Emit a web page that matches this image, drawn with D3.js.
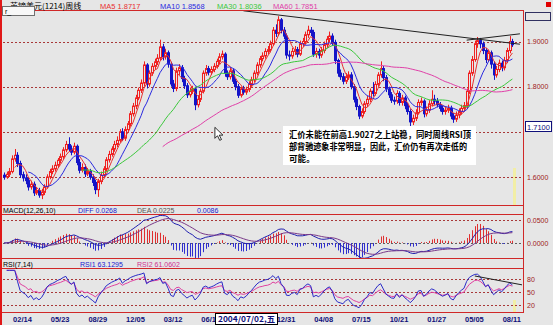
<!DOCTYPE html>
<html>
<head>
<meta charset="utf-8">
<script src="https://cdn.jsdelivr.net/npm/d3@7"></script>
<style>
  body { margin: 0; background: #e6e6e6; }
  svg { display: block; }
</style>
</head>
<body>
<svg id="chart" width="553" height="325"></svg>
<script>
// weekly candles, one per week, left to right
const closes = [
  1.600,1.606,1.612,1.640,1.648,1.630,1.605,1.598,1.592,1.578,
  1.584,1.565,1.570,1.560,1.566,1.578,1.600,1.612,1.618,1.626,
  1.637,1.645,1.660,1.672,1.662,1.655,1.668,1.632,1.615,1.621,
  1.607,1.612,1.600,1.588,1.572,1.590,1.604,1.618,1.638,1.650,
  1.662,1.672,1.681,1.700,1.686,1.705,1.718,1.740,1.757,1.775,
  1.792,1.808,1.848,1.806,1.830,1.845,1.855,1.863,1.888,1.866,
  1.875,1.850,1.806,1.796,1.835,1.842,1.818,1.802,1.782,1.790,
  1.795,1.760,1.772,1.790,1.830,1.840,1.832,1.838,1.845,1.856,
  1.866,1.872,1.830,1.822,1.835,1.812,1.800,1.781,1.795,1.788,
  1.794,1.805,1.815,1.830,1.848,1.862,1.868,1.878,1.882,1.895,
  1.925,1.918,1.948,1.925,1.912,1.870,1.868,1.878,1.882,1.872,
  1.895,1.900,1.915,1.925,1.920,1.872,1.878,1.870,1.880,1.893,
  1.905,1.912,1.898,1.858,1.830,1.822,1.812,1.822,1.826,1.800,
  1.772,1.756,1.735,1.745,1.762,1.772,1.790,1.785,1.805,1.826,
  1.840,1.820,1.795,1.782,1.770,1.768,1.785,1.765,1.775,1.758,
  1.745,1.722,1.730,1.742,1.765,1.768,1.740,1.748,1.762,1.772,
  1.768,1.760,1.752,1.745,1.748,1.752,1.735,1.728,1.737,1.745,
  1.752,1.758,1.790,1.830,1.860,1.895,1.902,1.895,1.880,1.860,
  1.875,1.850,1.826,1.838,1.852,1.842,1.858,1.880,1.900,1.893
];
const highs = [
  1.610,1.612,1.620,1.648,1.662,1.655,1.636,1.612,1.606,1.598,
  1.592,1.590,1.578,1.576,1.574,1.584,1.606,1.618,1.626,1.634,
  1.642,1.652,1.666,1.680,1.688,1.670,1.676,1.672,1.640,1.630,
  1.628,1.620,1.618,1.606,1.594,1.596,1.612,1.624,1.644,1.658,
  1.668,1.680,1.690,1.706,1.708,1.712,1.724,1.746,1.764,1.782,
  1.798,1.816,1.856,1.852,1.836,1.852,1.862,1.872,1.904,1.895,
  1.884,1.880,1.855,1.815,1.842,1.850,1.848,1.824,1.808,1.798,
  1.802,1.800,1.780,1.796,1.836,1.848,1.846,1.845,1.852,1.862,
  1.874,1.880,1.876,1.836,1.842,1.840,1.818,1.806,1.800,1.802,
  1.800,1.812,1.822,1.836,1.854,1.868,1.876,1.885,1.890,1.902,
  1.932,1.938,1.956,1.952,1.932,1.918,1.880,1.886,1.890,1.888,
  1.902,1.908,1.922,1.935,1.932,1.926,1.886,1.884,1.888,1.900,
  1.912,1.922,1.918,1.904,1.862,1.838,1.830,1.830,1.834,1.832,
  1.806,1.778,1.760,1.752,1.768,1.780,1.796,1.810,1.812,1.832,
  1.856,1.846,1.826,1.800,1.788,1.778,1.792,1.790,1.782,1.780,
  1.764,1.750,1.738,1.750,1.772,1.776,1.772,1.756,1.770,1.792,
  1.782,1.775,1.766,1.758,1.756,1.760,1.758,1.742,1.745,1.752,
  1.760,1.766,1.796,1.836,1.868,1.902,1.910,1.908,1.900,1.886,
  1.882,1.880,1.856,1.846,1.860,1.858,1.866,1.886,1.912,1.906
];
const lows = [
  1.594,1.596,1.600,1.608,1.634,1.622,1.598,1.590,1.584,1.570,
  1.572,1.558,1.560,1.554,1.551,1.560,1.574,1.595,1.606,1.612,
  1.620,1.630,1.640,1.655,1.656,1.648,1.650,1.626,1.608,1.610,
  1.600,1.602,1.594,1.580,1.562,1.556,1.584,1.598,1.612,1.632,
  1.645,1.656,1.666,1.676,1.680,1.680,1.700,1.712,1.734,1.750,
  1.770,1.786,1.800,1.796,1.800,1.824,1.838,1.848,1.858,1.858,
  1.860,1.842,1.800,1.788,1.790,1.826,1.810,1.795,1.775,1.776,
  1.784,1.748,1.754,1.766,1.785,1.824,1.825,1.826,1.832,1.840,
  1.850,1.860,1.822,1.815,1.816,1.806,1.792,1.775,1.776,1.782,
  1.782,1.788,1.800,1.810,1.825,1.842,1.856,1.862,1.872,1.876,
  1.890,1.910,1.912,1.918,1.905,1.862,1.858,1.862,1.870,1.865,
  1.868,1.888,1.894,1.908,1.912,1.866,1.864,1.862,1.864,1.874,
  1.886,1.898,1.890,1.850,1.822,1.815,1.805,1.806,1.815,1.794,
  1.765,1.748,1.728,1.730,1.740,1.755,1.766,1.778,1.780,1.800,
  1.820,1.812,1.788,1.775,1.764,1.760,1.762,1.758,1.758,1.750,
  1.738,1.706,1.715,1.724,1.738,1.758,1.732,1.734,1.742,1.756,
  1.760,1.754,1.745,1.738,1.738,1.742,1.728,1.720,1.722,1.730,
  1.738,1.745,1.752,1.784,1.824,1.855,1.886,1.885,1.872,1.852,
  1.855,1.840,1.815,1.820,1.832,1.834,1.836,1.852,1.874,1.888
];
const firstOpen = 1.604;

// the label at 09/24 sits under the cursor date box, so it is not listed
const dateLabels = ['02/14','05/23','08/29','12/05','03/12','06/18','12/31','04/08','07/15','10/21','01/27','05/05','08/11'];
const dateLabelIdx = [3,17,31,45,59,73,101,115,129,143,157,171,185];

const priceTicks = [1.9, 1.8, 1.7, 1.6];
const priceTickText = ['1.9000', '1.8000', '', '1.6000'];
const macdTicks = [0.05, 0];
const macdTickText = ['0.0500', '0.0000'];
const rsiTicks = [80, 50, 20];

const maPeriods = [5, 10, 30, 60];
const maColors = ['#e83030', '#2a2ae0', '#3cc83c', '#e040a8'];
const maHeader = ['MA5 1.8717', 'MA10 1.8568', 'MA30 1.8036', 'MA60 1.7851'];
const macdHeader = ['MACD(12,26,10)', 'DIFF 0.0268', 'DEA 0.0225', '0.0086'];
const rsiHeader = ['RSI(7,14)', 'RSI1 63.1295', 'RSI2 61.0602'];

// hand drawn trend lines: [week index, value]
const priceTrendA = [[89, 1.968], [191.8, 1.894]];
const priceTrendB = [[172, 1.903], [191.8, 1.917]];
const rsiTrend = [[175, 87], [193, 66]];

const cursor = {index: 78.4, price: 1.71, date: '2004/07/02,五', priceText: '1.7100'};

const noteLines = [
  '汇价未能在前高1.9027之上站稳，同时周线RSI顶',
  '部背驰迹象非常明显，因此，汇价仍有再次走低的',
  '可能。'
];

// ---------------------------------------------------------------------------
const svg = d3.select('#chart');
const W = 553, H = 325;
const RED = '#d02828', GRID = '#a83838', NAVY = '#10107a';
const mono = 'Liberation Sans, Arial, sans-serif';
const cjk = '"Noto Sans CJK SC", sans-serif';

const opens = closes.map((c, i) => i ? closes[i - 1] : firstOpen);
const bars = closes.map((c, i) => ({i, o: opens[i], c, h: highs[i], l: lows[i]}));

const x = d3.scaleLinear().domain([0, closes.length - 1]).range([4, 512.4]);
const yP = d3.scaleLinear().domain([1.6, 1.9]).range([177, 41.5]);
const yM = d3.scaleLinear().domain([0, 0.05]).range([243, 220]);
const yR = d3.scaleLinear().domain([20, 80]).range([305, 279]);

// indicators
function movingAvg(arr, n) {
  return arr.map((v, i) => i < n - 1 ? null : d3.mean(arr.slice(i - n + 1, i + 1)));
}
function ema(arr, n) {
  const out = [];
  arr.forEach((v, i) => out.push(i ? (2 * v + (n - 1) * out[i - 1]) / (n + 1) : v));
  return out;
}
function rsi(arr, n) {
  const out = [null];
  let up = 0, ab = 0;
  for (let i = 1; i < arr.length; i++) {
    const d = arr[i] - arr[i - 1];
    if (i === 1) { up = Math.max(d, 0); ab = Math.abs(d); }
    else { up = (Math.max(d, 0) + (n - 1) * up) / n; ab = (Math.abs(d) + (n - 1) * ab) / n; }
    out.push(ab ? up / ab * 100 : 50);
  }
  return out;
}
const e12 = ema(closes, 12), e26 = ema(closes, 26);
const diff = closes.map((c, i) => e12[i] - e26[i]);
const dea = ema(diff, 10);
const macd = diff.map((d, i) => 2 * (d - dea[i]));
const rsi1 = rsi(closes, 7), rsi2 = rsi(closes, 14);

// background + frame
svg.append('rect').attr('width', W).attr('height', H).attr('fill', '#e6e6e6');

const px = x(cursor.index), py = yP(cursor.price);
const boxX = Math.round(px) + 0.5;

const defs = svg.append('defs');
defs.append('clipPath').attr('id', 'cMain').append('rect').attr('x', 3).attr('y', 11).attr('width', 519).attr('height', 194);
defs.append('clipPath').attr('id', 'cMacd').append('rect').attr('x', 3).attr('y', 215).attr('width', 519).attr('height', 43);
defs.append('clipPath').attr('id', 'cRsi').append('rect').attr('x', 3).attr('y', 269).attr('width', 519).attr('height', 43);
defs.append('clipPath').attr('id', 'cDate').append('rect').attr('x', 0).attr('y', 313).attr('width', boxX).attr('height', 12);

// yellow marker stripe at right edge
[[168, 206], [300, 312]].forEach(s => {
  svg.append('rect').attr('x', 513).attr('y', s[0]).attr('width', 3).attr('height', s[1] - s[0])
    .attr('fill', '#f2eea6');
});

// grid lines
const grid = svg.append('g').attr('stroke', GRID).attr('stroke-width', 1).attr('stroke-dasharray', '2,2');
priceTicks.forEach(t => grid.append('line').attr('x1', 3).attr('x2', 523)
  .attr('y1', Math.round(yP(t)) + 0.5).attr('y2', Math.round(yP(t)) + 0.5));
macdTicks.forEach((t, k) => grid.append('line').attr('x1', 3).attr('x2', 523)
  .attr('stroke', k ? '#606060' : GRID)
  .attr('y1', Math.round(yM(t)) + 0.5).attr('y2', Math.round(yM(t)) + 0.5));
rsiTicks.forEach(t => grid.append('line').attr('x1', 3).attr('x2', 523)
  .attr('y1', Math.round(yR(t)) + 0.5).attr('y2', Math.round(yR(t)) + 0.5));

// ---- main panel: candles
const gMain = svg.append('g').attr('clip-path', 'url(#cMain)');
const k = gMain.selectAll('g.k').data(bars).enter().append('g').attr('class', 'k');
k.append('line')
  .attr('x1', d => Math.round(x(d.i)) + 0.5).attr('x2', d => Math.round(x(d.i)) + 0.5)
  .attr('y1', d => yP(d.h)).attr('y2', d => yP(d.l))
  .attr('stroke', d => d.c >= d.o ? '#f02020' : '#1414c8');
k.append('rect')
  .attr('x', d => Math.round(x(d.i)) - 0.5)
  .attr('width', 2)
  .attr('y', d => yP(Math.max(d.o, d.c)))
  .attr('height', d => Math.max(1, Math.abs(yP(d.o) - yP(d.c))))
  .attr('fill', d => d.c >= d.o ? '#e6e6e6' : '#1414c8')
  .attr('stroke', d => d.c >= d.o ? '#f02020' : '#1414c8')
  .attr('stroke-width', 1);

// moving averages
maPeriods.forEach((n, j) => {
  const ma = movingAvg(closes, n);
  gMain.append('path')
    .datum(ma)
    .attr('fill', 'none')
    .attr('stroke', maColors[j])
    .attr('stroke-width', 1)
    .attr('d', d3.line().defined(v => v != null).x((v, i) => x(i)).y(v => yP(v)));
});

// trend lines
[priceTrendA, priceTrendB].forEach(t => {
  gMain.append('line')
    .attr('x1', x(t[0][0])).attr('y1', yP(t[0][1]))
    .attr('x2', x(t[1][0])).attr('y2', yP(t[1][1]))
    .attr('stroke', '#202020').attr('stroke-width', 1);
});

// comment box
const note = svg.append('g');
note.append('rect').attr('x', 283).attr('y', 126).attr('width', 193).attr('height', 39).attr('fill', '#ffffff');
noteLines.forEach((s, j) => {
  const t = note.append('text')
    .attr('x', 289).attr('y', 138 + j * 12)
    .attr('font-family', cjk).attr('font-size', 8.6).attr('font-weight', 'bold')
    .attr('fill', '#000').text(s);
  if (j < 2) t.attr('textLength', j ? 178 : 182).attr('lengthAdjust', 'spacingAndGlyphs');
});

// mouse pointer
svg.append('path')
  .attr('d', `M${px},${py} l0,11 l2.6,-2.6 l2.2,4.6 l1.8,-0.8 l-2.2,-4.4 l3.6,0 z`)
  .attr('fill', '#fff').attr('stroke', '#000').attr('stroke-width', 0.8);

// ---- MACD panel
const gMacd = svg.append('g').attr('clip-path', 'url(#cMacd)');
gMacd.selectAll('line.h').data(macd).enter().append('line')
  .attr('x1', (v, i) => Math.round(x(i)) + 0.5).attr('x2', (v, i) => Math.round(x(i)) + 0.5)
  .attr('y1', yM(0)).attr('y2', v => yM(v))
  .attr('stroke', v => v >= 0 ? '#e03030' : '#3030d0');
gMacd.append('path').datum(diff).attr('fill', 'none').attr('stroke', '#2020b0')
  .attr('d', d3.line().x((v, i) => x(i)).y(v => yM(v)));
gMacd.append('path').datum(dea).attr('fill', 'none').attr('stroke', '#7a3a8a')
  .attr('d', d3.line().x((v, i) => x(i)).y(v => yM(v)));

// ---- RSI panel
const gRsi = svg.append('g').attr('clip-path', 'url(#cRsi)');
gRsi.append('path').datum(rsi2).attr('fill', 'none').attr('stroke', '#e040a0')
  .attr('d', d3.line().defined(v => v != null).x((v, i) => x(i)).y(v => yR(v)));
gRsi.append('path').datum(rsi1).attr('fill', 'none').attr('stroke', '#2a2ac8')
  .attr('d', d3.line().defined(v => v != null).x((v, i) => x(i)).y(v => yR(v)));
gRsi.append('line')
  .attr('x1', x(rsiTrend[0][0])).attr('y1', yR(rsiTrend[0][1]))
  .attr('x2', x(rsiTrend[1][0])).attr('y2', yR(rsiTrend[1][1]))
  .attr('stroke', '#202020');

// panel borders
const frame = svg.append('g').attr('stroke', RED).attr('stroke-width', 1);
[10.5, 205.5, 214.5, 258.5, 268.5, 312.5].forEach(y => frame.append('line')
  .attr('x1', 0).attr('x2', 523).attr('y1', y).attr('y2', y));
frame.append('line').attr('x1', 523.5).attr('x2', 523.5).attr('y1', 10).attr('y2', 313);
svg.append('rect').attr('x', 0).attr('y', 0).attr('width', 2).attr('height', H).attr('fill', '#e01818');

// ---- right axis labels
const ax = svg.append('g').attr('font-family', mono).attr('font-size', 7).attr('fill', '#a02020');
priceTicks.forEach((t, j) => ax.append('text').attr('x', 527).attr('y', yP(t) + 2.5).text(priceTickText[j]));
macdTicks.forEach((t, j) => ax.append('text').attr('x', 527).attr('y', yM(t) + 2.5).text(macdTickText[j]));
rsiTicks.forEach(t => ax.append('text').attr('x', 527).attr('y', yR(t) + 2.5).text(t));

// cursor price box
svg.append('rect').attr('x', 525.5).attr('y', Math.round(py) - 5.5).attr('width', 26).attr('height', 10)
  .attr('fill', '#fff').attr('stroke', NAVY);
svg.append('text').attr('x', 538.5).attr('y', py + 2.8).attr('text-anchor', 'middle')
  .attr('font-family', mono).attr('font-size', 7.5).attr('fill', NAVY).text(cursor.priceText);

// ---- date axis (labels under the cursor box are cut at its edge)
const xa = svg.append('g').attr('clip-path', 'url(#cDate)')
  .attr('font-family', mono).attr('font-size', 7.5).attr('font-weight', 'bold').attr('fill', NAVY);
dateLabels.forEach((s, j) => {
  if (x(dateLabelIdx[j]) < boxX) xa.append('text').attr('x', x(dateLabelIdx[j]) + 1).attr('y', 322).text(s);
});
const xa2 = svg.append('g')
  .attr('font-family', mono).attr('font-size', 7.5).attr('font-weight', 'bold').attr('fill', NAVY);
dateLabels.forEach((s, j) => {
  if (x(dateLabelIdx[j]) >= boxX) xa2.append('text').attr('x', x(dateLabelIdx[j]) + 1).attr('y', 322).text(s);
});
svg.append('rect').attr('x', boxX).attr('y', 313.5).attr('width', 62).attr('height', 11)
  .attr('fill', '#fff').attr('stroke', '#000');
svg.append('text').attr('x', boxX + 2.5).attr('y', 322).attr('font-family', cjk).attr('font-size', 8)
  .attr('font-weight', 'bold').attr('fill', NAVY).attr('textLength', 57).attr('lengthAdjust', 'spacingAndGlyphs')
  .text(cursor.date);

// ---- headers
svg.append('text').attr('x', 10).attr('y', 8.5).attr('font-family', cjk).attr('font-size', 8)
  .attr('fill', '#000').text('英镑美元(1214)周线');
svg.append('rect').attr('x', 2.5).attr('y', 6.5).attr('width', 32).attr('height', 9)
  .attr('fill', '#f8f8f8').attr('stroke', '#707070');
svg.append('text').attr('x', 5).attr('y', 14).attr('font-family', mono).attr('font-size', 7).text('r_');
const maX = [100, 160, 217, 273];
maHeader.forEach((s, j) => svg.append('text').attr('x', maX[j]).attr('y', 8.5)
  .attr('font-family', mono).attr('font-size', 7.5).attr('fill', maColors[j]).text(s));
svg.append('rect').attr('x', 546).attr('y', 2).attr('width', 5).attr('height', 5).attr('fill', '#e00000');
svg.append('rect').attr('x', 525.5).attr('y', 12.5).attr('width', 25).attr('height', 8)
  .attr('fill', 'none').attr('stroke', '#303060');

const macdX = [3, 78, 137, 197];
const macdCol = ['#000', '#2020d0', '#555', '#2020d0'];
macdHeader.forEach((s, j) => svg.append('text').attr('x', macdX[j]).attr('y', 212.5)
  .attr('font-family', mono).attr('font-size', 7).attr('fill', macdCol[j]).text(s));
const rsiX = [3, 80, 137];
const rsiCol = ['#000', '#2020d0', '#d03090'];
rsiHeader.forEach((s, j) => svg.append('text').attr('x', rsiX[j]).attr('y', 266.5)
  .attr('font-family', mono).attr('font-size', 7).attr('fill', rsiCol[j]).text(s));
</script>
</body>
</html>
